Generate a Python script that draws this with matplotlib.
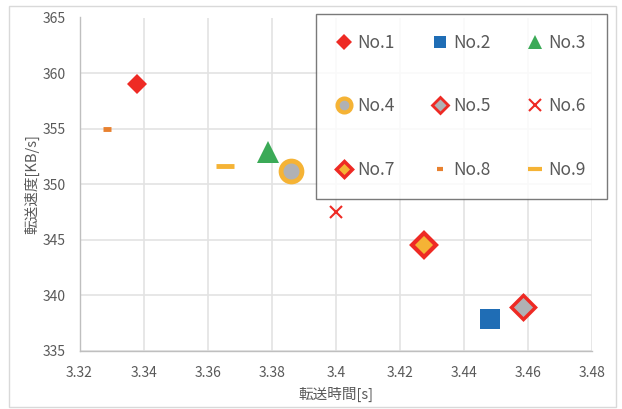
import matplotlib
matplotlib.use("Agg")
import matplotlib.pyplot as plt
from matplotlib.lines import Line2D
from matplotlib.patches import Rectangle

plt.rcParams['font.family'] = ['Noto Sans CJK JP', 'DejaVu Sans']

# Measured transfer time [s] and transfer speed [KB/s] per sample
labels = ["No.1", "No.2", "No.3", "No.4", "No.5", "No.6", "No.7", "No.8", "No.9"]
times = [3.338, 3.448, 3.379, 3.386, 3.4585, 3.400, 3.4275, 3.3287, 3.3653]
speeds = [359.0, 337.9, 352.9, 351.2, 339.0, 347.5, 344.5, 355.0, 351.6]

x_ticks = [3.32, 3.34, 3.36, 3.38, 3.40, 3.42, 3.44, 3.46, 3.48]
x_tick_labels = ["3.32", "3.34", "3.36", "3.38", "3.4", "3.42", "3.44", "3.46", "3.48"]
y_ticks = [335, 340, 345, 350, 355, 360, 365]

RED = "#EE2A24"
BLUE = "#1F6DB5"
GREEN = "#3BAA57"
GOLD = "#F5B335"
ORANGE = "#E8812F"
GRAY = "#B0B1B4"

# marker style per sample: (marker, size, face, edge, edge width)
styles = [
    dict(marker="D", ms=10, mfc=RED, mec=RED, mew=0),
    dict(marker="s", ms=15, mfc=BLUE, mec=BLUE, mew=0),
    dict(marker="^", ms=16, mfc=GREEN, mec=GREEN, mew=0),
    dict(marker="o", ms=15, mfc=GRAY, mec=GOLD, mew=3.5),
    dict(marker="D", ms=12, mfc=GRAY, mec=RED, mew=2.5),
    dict(marker="x", ms=9, mfc=RED, mec=RED, mew=1.5),
    dict(marker="D", ms=12, mfc=GOLD, mec=RED, mew=3),
    dict(marker="_", ms=6, mfc=ORANGE, mec=ORANGE, mew=3.5),
    dict(marker="_", ms=13, mfc=GOLD, mec=GOLD, mew=3.5),
]
legend_styles = [
    dict(marker="D", ms=8, mfc=RED, mec=RED, mew=0),
    dict(marker="s", ms=9, mfc=BLUE, mec=BLUE, mew=0),
    dict(marker="^", ms=10, mfc=GREEN, mec=GREEN, mew=0),
    dict(marker="o", ms=10, mfc=GRAY, mec=GOLD, mew=3),
    dict(marker="D", ms=8, mfc=GRAY, mec=RED, mew=2),
    dict(marker="x", ms=8, mfc=RED, mec=RED, mew=1.5),
    dict(marker="D", ms=8, mfc=GOLD, mec=RED, mew=2.5),
    dict(marker="_", ms=5, mfc=ORANGE, mec=ORANGE, mew=3),
    dict(marker="_", ms=10, mfc=GOLD, mec=GOLD, mew=3),
]

fig = plt.figure(figsize=(6.22, 4.09), dpi=100)
fig.patches.append(Rectangle((9 / 622, 2 / 409), 607 / 622, 401 / 409,
                             transform=fig.transFigure, fill=False,
                             edgecolor="#D9D9D9", linewidth=1.0))

ax = fig.add_axes([79.5 / 622, 58 / 409, 512.5 / 622, 333.5 / 409])

for t, s, st in zip(times, speeds, styles):
    ax.plot([t], [s], linestyle="none", zorder=3, **st)

ax.set_xlim(3.32, 3.48)
ax.set_ylim(335, 365)
ax.set_xticks(x_ticks)
ax.set_xticklabels(x_tick_labels)
ax.set_yticks(y_ticks)
ax.grid(True, color="#E3E3E3", linewidth=1.2, zorder=0)
ax.set_axisbelow(True)
for side in ("top", "right"):
    ax.spines[side].set_visible(False)
for side in ("left", "bottom"):
    ax.spines[side].set_color("#BFBFBF")
    ax.spines[side].set_linewidth(1.0)
ax.tick_params(length=0, labelsize=10, labelcolor="#595959")
ax.tick_params(axis="x", pad=10.5)
ax.tick_params(axis="y", pad=10)
ax.set_xlabel("転送時間[s]", fontsize=10.5, color="#595959", labelpad=5)
ax.set_ylabel("転送速度[KB/s]", fontsize=10.5, color="#595959", labelpad=2)

handles = [Line2D([], [], linestyle="none", **st) for st in legend_styles]
order = [0, 3, 6, 1, 4, 7, 2, 5, 8]
leg = ax.legend([handles[i] for i in order], [labels[i] for i in order],
                ncol=3, loc="upper left",
                bbox_to_anchor=(315.5 / 622, 1 - 199.5 / 409, 291 / 622, 186 / 409),
                bbox_transform=fig.transFigure, mode="expand",
                fontsize=12.5, handlelength=0.9, handletextpad=0.3,
                labelspacing=2.6, borderpad=1.2, columnspacing=1.5,
                frameon=True, fancybox=False, borderaxespad=0)
leg.get_frame().set_edgecolor("#595959")
leg.get_frame().set_linewidth(1.0)
for txt in leg.get_texts():
    txt.set_color("#595959")

fig.savefig("out.png", dpi=100)
